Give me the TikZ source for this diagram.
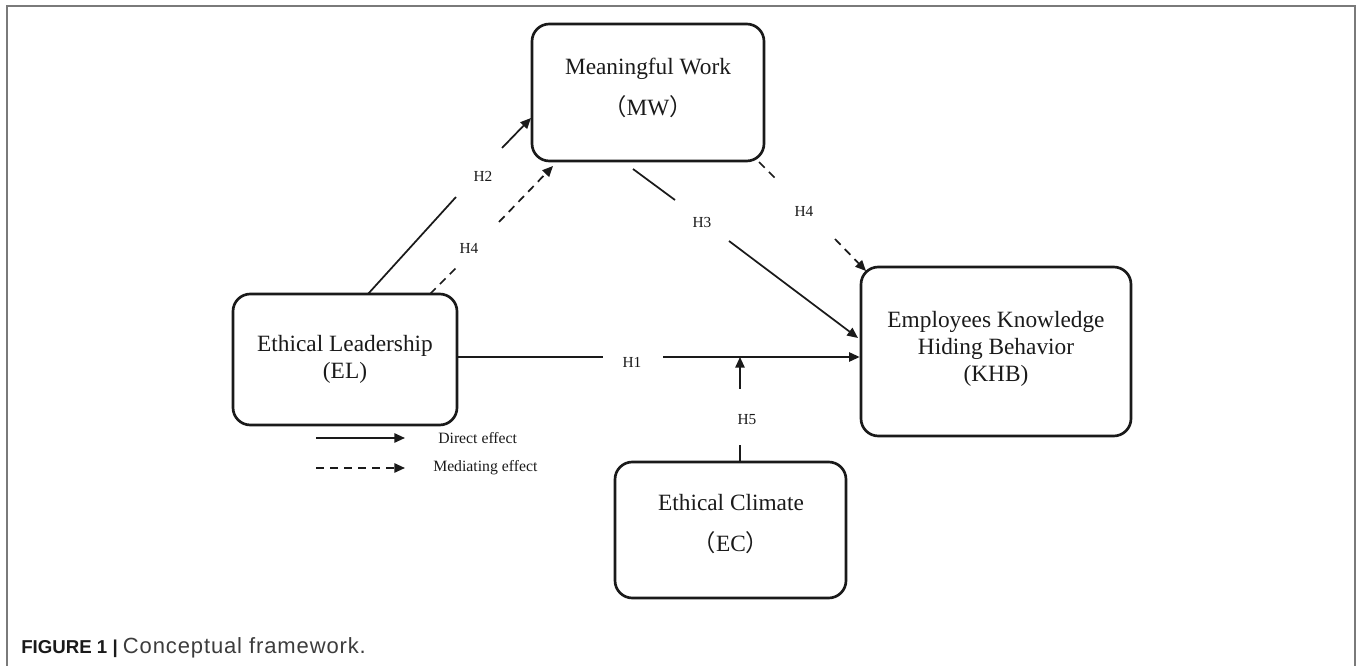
\documentclass[tikz,border=0pt]{standalone}
\usepackage{fontspec}
\setmainfont{Liberation Serif}
\setsansfont{Liberation Sans}
\newfontfamily\cjk{Noto Sans CJK SC}
\usetikzlibrary{arrows.meta,fit}
\definecolor{framegray}{HTML}{7A7A7A}
\definecolor{ink}{HTML}{1A1A1A}
\tikzset{
  box/.style={draw=ink, line width=2pt, rounded corners=13pt, inner sep=0pt},
  lbl/.style={align=center, text=ink, inner sep=0pt, font=\fontsize{17.5}{20.25}\selectfont},
  hyp/.style={text=ink, inner sep=0pt, font=\fontsize{11.5}{13}\selectfont},
  legtext/.style={text=ink, inner sep=0pt, anchor=west, font=\fontsize{11.8}{13}\selectfont},
  link/.style={draw=ink, line width=1.3pt},
  tip/.style={-{Triangle[length=8pt,width=7pt]}},
  dashline/.style={dash pattern=on 6pt off 4.5pt},
}
\begin{document}
\begin{tikzpicture}[x=0.75pt,y=-0.75pt]
\useasboundingbox (0,0) rectangle (1357,666);
% outer frame
\draw[framegray, line width=1.1pt] (7,666) -- (7,6) -- (1355,6) -- (1355,666);

% boxes
\node[box, fit={(532,24) (764,161)}] (MW) {};
\node[box, fit={(233,294) (457,425)}] (EL) {};
\node[box, fit={(861,267) (1131,436)}] (KHB) {};
\node[box, fit={(615,462) (846,598)}] (EC) {};

% box texts
\node[lbl] (MWt) at (648,88) {Meaningful Work\\[10.5pt]{\cjk （}MW{\cjk ）}};
\node[lbl] (ELt) at (345,359) {Ethical Leadership\\(EL)};
\node[lbl] (KHBt) at (996,349) {Employees Knowledge\\Hiding Behavior\\(KHB)};
\node[lbl] (ECt) at (731,524) {Ethical Climate\\[10.5pt]{\cjk （}EC{\cjk ）}};

% coordinates on node borders and gaps
\coordinate (h2s) at (368,294);
\coordinate (h2a) at (456,197);
\coordinate (h2b) at (502,148);
\coordinate (h2t) at (531,118);

\coordinate (h4s) at (430,294);
\coordinate (h4a) at (458,266);
\coordinate (h4b) at (499,222);
\coordinate (h4t) at (553,166);

\coordinate (h3s) at (633,169);
\coordinate (h3a) at (675,200);
\coordinate (h3b) at (729,241);
\coordinate (h3t) at (858,338);

\coordinate (k4s) at (759,162);
\coordinate (k4a) at (778,181);
\coordinate (k4b) at (835,239);
\coordinate (k4t) at (866,271);

\coordinate (h1a) at (603,357);
\coordinate (h1b) at (663,357);
\coordinate (h5a) at (740,445);
\coordinate (h5b) at (740,389);
\coordinate (h5t) at (740,357);

% H2
\draw[link] (h2s) -- (h2a);
\draw[link, tip] (h2b) -- (h2t);
\node[hyp] (H2) at (483,176) {H2};
% H4 left
\draw[link, dashline] (h4s) -- (h4a);
\draw[link, dashline, tip] (h4b) -- (h4t);
\node[hyp] (H4a) at (469,248) {H4};
% H3
\draw[link] (h3s) -- (h3a);
\draw[link, tip] (h3b) -- (h3t);
\node[hyp] (H3) at (702,223) {H3};
% H4 right
\draw[link, dashline] (k4s) -- (k4a);
\draw[link, dashline, tip] (k4b) -- (k4t);
\node[hyp] (H4b) at (804,211) {H4};
% H1
\draw[link] (EL.east |- h1a) -- (h1a);
\draw[link, tip] (h1b) -- (KHB.west |- h1b);
\node[hyp] (H1) at (632,362) {H1};
% H5
\draw[link] (EC.north -| h5a) -- (h5a);
\draw[link, tip] (h5b) -- (h5t);
\node[hyp] (H5) at (747,420) {H5};

% legend
\coordinate (l1s) at (316,438);
\coordinate (l1t) at (405,438);
\coordinate (l2s) at (316,468);
\coordinate (l2t) at (405,468);
\draw[link, tip] (l1s) -- (l1t);
\draw[link, dashline, tip] (l2s) -- (l2t);
\node[legtext] (Ld) at (438,438) {Direct effect};
\node[legtext] (Lm) at (433,468) {Mediating effect};

% caption
\node[anchor=base west, inner sep=0pt, font=\sffamily\fontsize{14}{16}\selectfont, text=ink] (cap) at (21,653)
  {\textbf{FIGURE 1} \textbf{|} {\fontsize{16.5}{18}\selectfont\addfontfeature{LetterSpace=4}\color{ink!85}Conceptual framework.}};
\end{tikzpicture}
\end{document}
